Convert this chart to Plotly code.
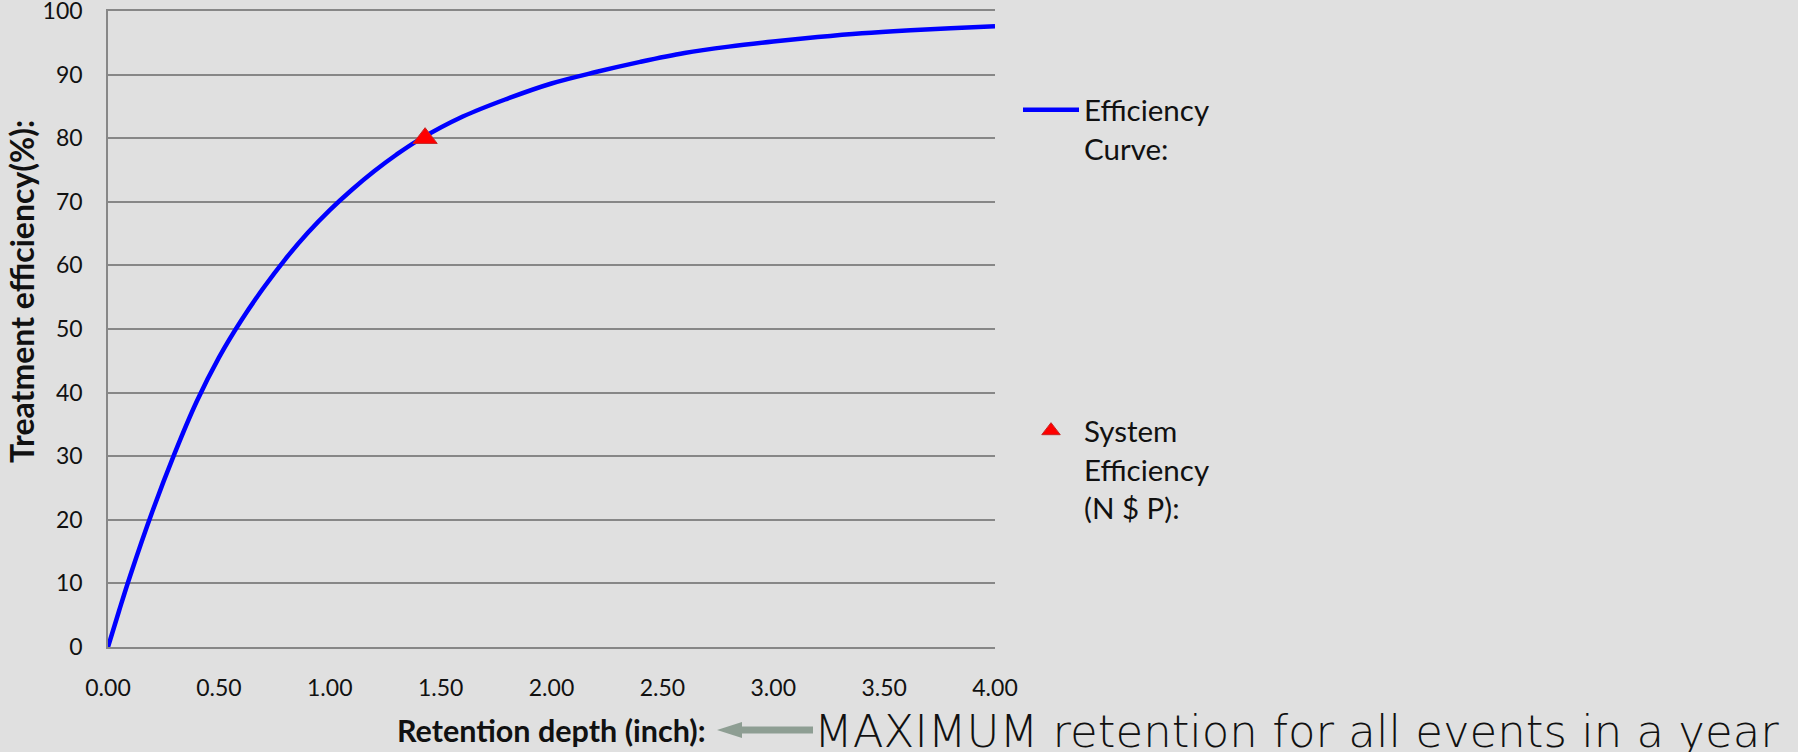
import plotly.graph_objects as go

# Efficiency curve (retention depth in inches vs treatment efficiency %)
depth = [0, 0.05, 0.1, 0.2, 0.3, 0.4, 0.5, 0.6, 0.7, 0.8, 0.9, 1.0, 1.1, 1.2, 1.3, 1.4,
         1.6, 1.8, 2.0, 2.2, 2.4, 2.6, 2.8, 3.0, 3.2, 3.4, 3.6, 3.8, 4.0]
efficiency = [0, 5.7, 11.2, 21.3, 30.4, 38.6, 45.5, 51.3, 56.4, 61.0, 65.1, 68.7, 71.9,
              74.8, 77.4, 79.7, 83.4, 86.2, 88.6, 90.4, 92.0, 93.4, 94.4, 95.2, 95.9,
              96.5, 96.95, 97.3, 97.6]

# System efficiency point
system_depth = [1.43]
system_eff = [80]

x_ticks = [0, 0.5, 1.0, 1.5, 2.0, 2.5, 3.0, 3.5, 4.0]
y_ticks = [0, 10, 20, 30, 40, 50, 60, 70, 80, 90, 100]

W, H = 1798, 752
L, R, T, B = 108, 995, 11, 647

BG = "#E0E0E0"
GRID = "#878787"
TXT = "#111111"
FONT = "Lato"

fig = go.Figure()
fig.add_trace(go.Scatter(
    x=depth, y=efficiency, mode="lines", name="Efficiency<br>Curve:",
    line=dict(color="#0000FF", width=4.5, shape="spline", smoothing=1.0),
    legend="legend",
))
fig.add_trace(go.Scatter(
    x=system_depth, y=system_eff, mode="markers", name="System<br>Efficiency<br>(N $ P):",
    marker=dict(symbol="triangle-up", size=21, color="#FF0000",
                line=dict(color="#C62828", width=1)),
    legend="legend2",
))

LEG_X = 1018
fig.update_layout(
    width=W, height=H,
    margin=dict(l=L, r=W - R, t=T, b=H - B, autoexpand=False),
    paper_bgcolor=BG, plot_bgcolor=BG,
    font=dict(family=FONT, color=TXT),
    xaxis=dict(
        range=[0, 4], tickvals=x_ticks, tickformat=".2f",
        showgrid=False, zeroline=False, showline=True, mirror=True,
        linecolor=GRID, linewidth=1.5,
        ticks="", ticklabelstandoff=20, ticklabeloverflow="allow",
        tickfont=dict(family=FONT, size=23, color=TXT),
    ),
    yaxis=dict(
        range=[0, 100], tickvals=y_ticks,
        showgrid=True, gridcolor=GRID, gridwidth=1.5,
        zeroline=False, showline=True, linecolor=GRID, linewidth=1.5,
        ticks="", ticklabelstandoff=19, ticklabeloverflow="allow",
        tickfont=dict(family=FONT, size=23, color=TXT),
    ),
    legend=dict(
        xref="container", yref="container", x=LEG_X / W, y=1 - 84 / H,
        xanchor="left", yanchor="top", valign="top", itemwidth=56,
        bgcolor="rgba(0,0,0,0)", font=dict(family=FONT, size=29.5, color=TXT),
    ),
    legend2=dict(
        xref="container", yref="container", x=LEG_X / W, y=1 - 405 / H,
        xanchor="left", yanchor="top", valign="top", itemwidth=56,
        bgcolor="rgba(0,0,0,0)", font=dict(family=FONT, size=29.5, color=TXT),
    ),
    showlegend=True,
)

pw, ph = R - L, B - T
def px(xp):
    return (xp - L) / pw
def py(yp):
    return (B - yp) / ph

# axis titles
fig.add_annotation(
    xref="paper", yref="paper", x=px(551), y=py(730), xanchor="center", yanchor="middle",
    text="<b>Retention depth (inch):</b>", showarrow=False,
    font=dict(family=FONT, size=30.5, color=TXT),
)
fig.add_annotation(
    xref="paper", yref="paper", x=px(21), y=py(292), xanchor="center", yanchor="middle",
    text="<b>Treatment efficiency(%):</b>", showarrow=False, textangle=-90,
    font=dict(family=FONT, size=32, color=TXT),
)

# arrow pointing to the axis title
ARROW = "#8E9E93"
ay_c = 730
fig.add_shape(
    type="path", xref="paper", yref="paper",
    path=(f"M {px(717)},{py(ay_c)} L {px(742)},{py(ay_c - 8)} L {px(742)},{py(ay_c - 3.5)} "
          f"L {px(813)},{py(ay_c - 3.5)} L {px(813)},{py(ay_c + 3.5)} L {px(742)},{py(ay_c + 3.5)} "
          f"L {px(742)},{py(ay_c + 8)} Z"),
    fillcolor=ARROW, line=dict(width=0),
)
fig.add_annotation(
    xref="paper", yref="paper", x=px(812), y=py(731), xanchor="left", yanchor="middle",
    text="MAXIMUM retention for all events in a year", showarrow=False,
    font=dict(family="DejaVu Sans", size=45, color="#111111", weight=200),
)

fig.write_html("out.html", post_script="document.body.style.margin='0';",
               config={"displayModeBar": False})
